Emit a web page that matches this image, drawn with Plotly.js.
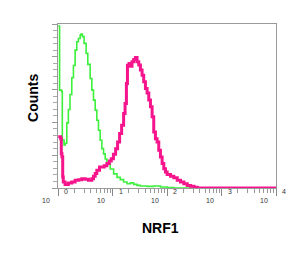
<!DOCTYPE html>
<html>
<head>
<meta charset="utf-8">
<script src="https://cdn.plot.ly/plotly-3.0.1.min.js"></script>
<style>
html,body{margin:0;padding:0;background:#fff;}
#chart{width:300px;height:253px;}
</style>
</head>
<body>
<div id="chart"></div>
<script>
// Isotype control (green)
const greenX = [1.01,1.06,1.07,1.17,1.20,1.29,1.36,1.45,1.55,1.66,1.79,1.92,2.06,2.21,2.37,2.55,2.65,2.81,3.01,3.28,3.52,3.89,4.18,4.48,4.81,5.16,5.53,5.94,6.38,6.85,7.35,7.89,9.10,10.5,12.1,13.9,16.0,18.5,21.2,24.5,28.2,32.5,43.1,57.1,75.9,101,134,10000];
const greenY = [98.8,98.8,59.7,58.7,29.3,26.3,27.3,39.7,47.9,57.0,67.2,74.7,84.1,89.2,91.2,93.3,93.9,92.3,88.2,82.1,75.4,66.8,59.7,53.6,47.5,41.3,35.2,29.1,24.0,20.8,17.7,14.7,11.6,8.6,6.5,5.1,3.7,2.6,3.1,2.2,1.6,1.2,1.0,1.2,0.6,0.2,0,0];
// NRF1 stained (magenta)
const pinkX = [1.01,1.06,1.12,1.15,1.18,1.22,1.25,1.35,1.55,1.79,2.06,2.37,2.73,3.14,3.62,4.17,4.48,4.81,5.16,5.78,6.38,7.05,7.89,8.72,9.49,10.4,11.4,12.4,13.5,14.7,16.0,17.0,18.0,18.8,20.1,21.3,22.8,24.5,26.3,28.2,30.3,32.5,34.9,37.4,40.2,43.1,46.3,49.7,53.3,57.1,61.3,65.8,70.6,75.8,81.4,87.3,93.7,100.6,115.9,133.5,154,177,204,235,271,312,359,10000];
const pinkY = [31.2,31.2,30.1,21.0,19.0,6.7,3.7,2.2,3.1,3.7,4.7,5.1,5.7,5.3,4.7,5.7,7.1,8.8,10.8,12.8,12.8,13.6,14.9,16.5,17.9,20.6,24.0,28.1,33.2,38.3,45.4,51.5,63.7,74.9,75.9,74.3,77.0,78.4,79.6,77.0,75.0,71.9,68.8,64.8,60.7,58.0,53.6,49.5,43.4,34.2,30.1,28.1,23.0,18.9,14.9,11.8,9.8,8.3,7.1,6.3,4.7,3.7,2.6,1.6,1.0,0.4,0,0];
// Axis tick labels
const tickPos = [1,10,100,1000,10000];
const tickBase = ["10","10","10","10","10"];
const tickExp = ["0","1","2","3","4"];
const xTitle = "NRF1";
const yTitle = "Counts";

const traces = [
  {x: greenX, y: greenY, type:'scatter', mode:'lines', line:{color:'#3cf03c', width:1.6, shape:'hv'}, hoverinfo:'skip'},
  {x: pinkX, y: pinkY, type:'scatter', mode:'lines', line:{color:'#f5148c', width:3, shape:'hv'}, hoverinfo:'skip'}
];

const ann = [];
tickPos.forEach((p,i)=>{
  ann.push({x: Math.log10(p), xref:'x', y:-0.11, yref:'paper', text: tickBase[i], showarrow:false,
    xshift:-12, font:{family:'Liberation Sans, Arial', size:7, color:'#333'}});
  ann.push({x: Math.log10(p), xref:'x', y:-0.055, yref:'paper', text: tickExp[i], showarrow:false,
    xshift:8, font:{family:'Liberation Sans, Arial', size:7, color:'#333'}});
});
ann.push({x:-0.16, xref:'paper', y:0.55, yref:'paper', text: yTitle, textangle:-90, showarrow:false,
  font:{family:'Liberation Sans, Arial', size:14, color:'#000', weight:'bold'}});
ann.push({x:0.47, xref:'paper', y:-0.305, yref:'paper', text: xTitle, showarrow:false,
  font:{family:'Liberation Sans, Arial', size:14, color:'#000', weight:'bold'}});

const layout = {
  width:300, height:253,
  margin:{l:58, r:24, t:24, b:65},
  paper_bgcolor:'#fff', plot_bgcolor:'#fff',
  showlegend:false,
  xaxis:{type:'log', range:[0,4], showgrid:false, zeroline:false, showline:true, mirror:true,
    linecolor:'#9a9a9a', linewidth:1, ticks:'outside', ticklen:7, tickcolor:'#888', tickwidth:1,
    tickvals: tickPos, showticklabels:false,
    minor:{ticks:'outside', ticklen:4, tickcolor:'#999', dtick:'D1', showgrid:false}},
  yaxis:{range:[0,100], showgrid:false, zeroline:false, showline:true, mirror:true,
    linecolor:'#9a9a9a', linewidth:1, ticks:'outside', ticklen:5, tickcolor:'#999', dtick:20,
    showticklabels:false,
    minor:{ticks:'outside', ticklen:4, tickcolor:'#aaa', dtick:4, showgrid:false}},
  annotations: ann
};
Plotly.newPlot('chart', traces, layout, {staticPlot:true, displayModeBar:false});
</script>
</body>
</html>
